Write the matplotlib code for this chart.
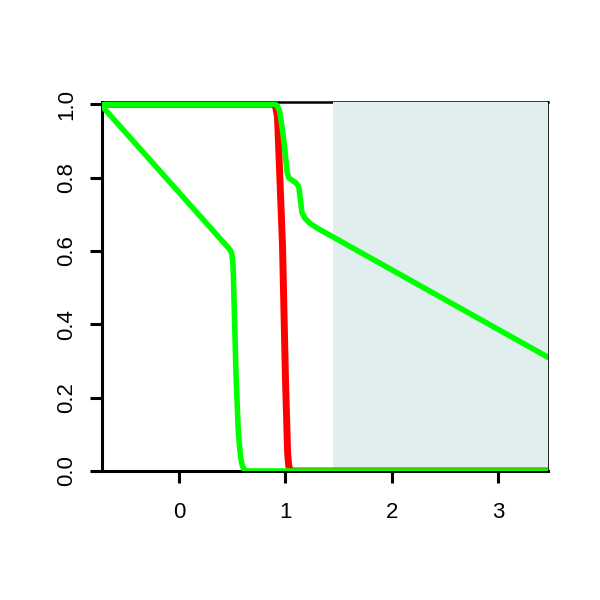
import matplotlib
matplotlib.use("Agg")
import matplotlib.pyplot as plt

# red curve
red_x = [-0.723, 0.895, 0.91, 0.925, 0.972, 1.0, 1.02, 1.03, 1.045, 3.465]
red_y = [1.0, 1.0, 0.99, 0.965, 0.615, 0.248, 0.05, 0.015, 0.0, 0.0]

# green curve falling early
g1_x = [-0.723, 0.48, 0.495, 0.505, 0.51, 0.535, 0.555, 0.566, 0.58, 0.595, 0.612, 0.64, 3.465]
g1_y = [0.995, 0.603, 0.594, 0.57, 0.539, 0.267, 0.12, 0.075, 0.035, 0.014, 0.004, 0.0, 0.0]

# green curve with the shelf
g2_x = [-0.723, 0.90, 0.925, 0.945, 0.972, 1.0, 1.015, 1.03, 1.06, 1.10, 1.125,
        1.14, 1.155, 1.18, 1.23, 1.305, 3.465]
g2_y = [1.0, 1.0, 0.995, 0.98, 0.93, 0.86, 0.815, 0.80, 0.793, 0.785, 0.775,
        0.74, 0.705, 0.69, 0.675, 0.661, 0.31]

shade_from = 1.45
xticks = [0, 1, 2, 3]
yticks = [0.0, 0.2, 0.4, 0.6, 0.8, 1.0]

plt.rcParams['font.family'] = ['Liberation Sans', 'DejaVu Sans']

fig = plt.figure(figsize=(6, 6), dpi=100)
ax = fig.add_axes([102 / 600, 129 / 600, 446 / 600, 369 / 600])
ax.set_xlim(-0.723, 3.465)
ax.set_ylim(0, 1.006)

ax.axvspan(shade_from, 3.465, color='#E0EEEE', zorder=3, lw=0)
ax.plot(red_x, red_y, color='#FF0000', lw=5, zorder=4, solid_joinstyle='round')
ax.plot(g1_x, g1_y, color='#00FF00', lw=4, zorder=5, solid_joinstyle='round')
ax.plot(g2_x, g2_y, color='#00FF00', lw=4, zorder=5, solid_joinstyle='round')

for s in ['left', 'bottom']:
    ax.spines[s].set_linewidth(2.2)
ax.spines['top'].set_linewidth(1.8)
ax.spines['right'].set_linewidth(1.2)

ax.set_xticks(xticks)
ax.set_xticklabels([str(t) for t in xticks])
ax.set_yticks(yticks)
ax.set_yticklabels(['%.1f' % t for t in yticks], rotation=90, va='center')
ax.tick_params(axis='both', length=8.6, width=2.2, labelsize=16)
ax.tick_params(axis='x', pad=14)
ax.tick_params(axis='y', pad=9)

fig.savefig('out.png', dpi=100)
